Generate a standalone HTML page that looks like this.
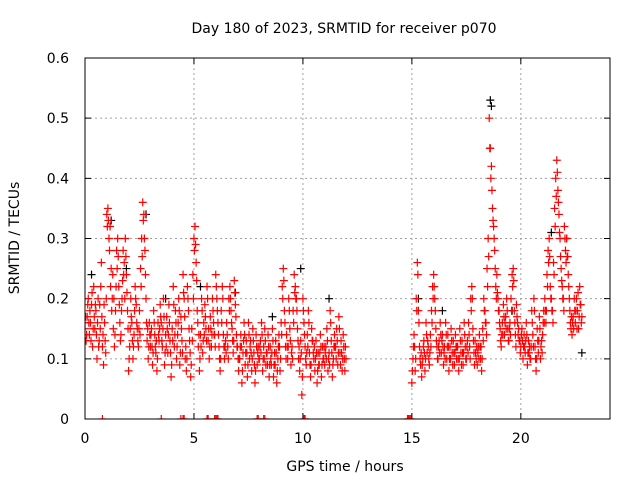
<!DOCTYPE html>
<html><head><meta charset="utf-8"><style>
body{margin:0;background:#fff}
svg{display:block;font-family:"DejaVu Sans","Liberation Sans",sans-serif}
</style></head><body>
<svg id="chart" width="640" height="480">
<defs><clipPath id="pc"><rect x="85" y="58" width="525" height="361"/></clipPath></defs>
<text x="344" y="33" font-size="14" text-anchor="middle">Day 180 of 2023, SRMTID for receiver p070</text>
<text x="345" y="471" font-size="14" text-anchor="middle">GPS time / hours</text>
<text transform="translate(19,238) rotate(-90)" font-size="14" text-anchor="middle">SRMTID / TECUs</text>
<g id="grid"></g><g id="axes"></g><g id="marks" clip-path="url(#pc)"></g>
<rect x="85" y="58" width="525" height="361" fill="none" stroke="#000"/>
</svg>
<script>
const xTicks=[0,5,10,15,20];
const yTicks=[0,0.1,0.2,0.3,0.4,0.5,0.6];
const yTickLabels=["0","0.1","0.2","0.3","0.4","0.5","0.6"];
const blockStarts=[0,0.5,1,1.5,2,2.5,3,3.5,4,4.5,5,5.5,6,6.5,7,7.5,8,8.5,9,9.5,10,10.5,11,11.5,15,15.5,16,16.5,17,17.5,18,18.5,19,19.5,20,20.5,21,21.5,22,22.5];
const redA=[
[0.15,0.13,0.17,0.2,0.14,0.16,0.19,0.12,0.22,0.15],
[0.18,0.1,0.2,0.13,0.15,0.26,0.12,0.09,0.16,0.11],
[0.34,0.35,0.3,0.32,0.25,0.2,0.15,0.12,0.18,0.28],
[0.3,0.22,0.16,0.14,0.2,0.28,0.26,0.3,0.24,0.18],
[0.08,0.12,0.2,0.16,0.1,0.14,0.22,0.19,0.15,0.12],
[0.18,0.25,0.3,0.36,0.34,0.28,0.2,0.13,0.1,0.16],
[0.12,0.15,0.09,0.18,0.14,0.11,0.08,0.16,0.13,0.19],
[0.16,0.12,0.2,0.09,0.14,0.17,0.11,0.19,0.13,0.07],
[0.15,0.22,0.12,0.18,0.1,0.14,0.2,0.09,0.17,0.13],
[0.24,0.2,0.1,0.08,0.22,0.18,0.13,0.07,0.15,0.24],
[0.3,0.32,0.26,0.18,0.12,0.08,0.14,0.2,0.11,0.16],
[0.19,0.15,0.22,0.13,0.1,0.17,0.12,0.2,0.16,0.14],
[0.24,0.2,0.16,0.12,0.08,0.18,0.22,0.14,0.1,0.13],
[0.16,0.12,0.2,0.22,0.18,0.15,0.11,0.23,0.19,0.14],
[0.12,0.08,0.1,0.14,0.06,0.11,0.16,0.09,0.13,0.07],
[0.16,0.1,0.13,0.08,0.15,0.11,0.06,0.14,0.09,0.12],
[0.1,0.13,0.16,0.08,0.12,0.15,0.09,0.11,0.14,0.07],
[0.12,0.09,0.15,0.07,0.11,0.13,0.06,0.1,0.14,0.08],
[0.16,0.22,0.25,0.18,0.12,0.14,0.1,0.2,0.15,0.09],
[0.12,0.18,0.24,0.22,0.2,0.15,0.1,0.08,0.13,0.04],
[0.2,0.16,0.12,0.09,0.14,0.18,0.11,0.07,0.15,0.13],
[0.1,0.08,0.13,0.06,0.11,0.09,0.14,0.07,0.12,0.1],
[0.09,0.12,0.15,0.08,0.11,0.18,0.13,0.07,0.1,0.14],
[0.12,0.15,0.09,0.17,0.11,0.13,0.08,0.14,0.1,0.12],
[0.06,0.1,0.14,0.08,0.2,0.26,0.18,0.12,0.09,0.07],
[0.1,0.13,0.08,0.16,0.11,0.12,0.09,0.14,0.18,0.22],
[0.24,0.2,0.15,0.12,0.1,0.13,0.16,0.11,0.14,0.09],
[0.12,0.16,0.1,0.14,0.08,0.12,0.15,0.11,0.13,0.09],
[0.14,0.1,0.12,0.08,0.15,0.11,0.13,0.09,0.16,0.12],
[0.1,0.13,0.16,0.12,0.2,0.22,0.15,0.11,0.13,0.1],
[0.09,0.12,0.14,0.1,0.08,0.15,0.2,0.18,0.16,0.25],
[0.3,0.5,0.45,0.42,0.35,0.32,0.28,0.22,0.24,0.2],
[0.18,0.15,0.12,0.16,0.19,0.14,0.17,0.2,0.15,0.13],
[0.16,0.2,0.24,0.25,0.18,0.14,0.19,0.16,0.15,0.13],
[0.12,0.15,0.1,0.14,0.11,0.16,0.09,0.13,0.12,0.1],
[0.18,0.14,0.2,0.12,0.08,0.15,0.11,0.17,0.1,0.13],
[0.14,0.18,0.2,0.16,0.24,0.28,0.3,0.22,0.2,0.18],
[0.26,0.35,0.4,0.43,0.38,0.34,0.3,0.25,0.22,0.2],
[0.32,0.28,0.3,0.27,0.22,0.18,0.15,0.14,0.17,0.2],
[0.16,0.2,0.18,0.15,0.22,0.19,0.17]];
const redB=[
[0.17,0.14,0.19,0.16,0.18,0.13,0.21,0.15,0.17,0.19],
[0.14,0.16,0.12,0.19,0.22,0.17,0.14,0.19,0.13,0.2],
[0.32,0.33,0.28,0.22,0.18,0.24,0.2,0.14,0.22,0.25],
[0.27,0.19,0.13,0.18,0.23,0.24,0.2,0.27,0.21,0.15],
[0.1,0.15,0.17,0.13,0.12,0.18,0.2,0.16,0.13,0.15],
[0.14,0.22,0.27,0.33,0.3,0.24,0.16,0.15,0.12,0.14],
[0.14,0.12,0.11,0.16,0.12,0.13,0.1,0.14,0.15,0.17],
[0.13,0.15,0.17,0.11,0.12,0.15,0.14,0.16,0.11,0.09],
[0.13,0.19,0.14,0.16,0.12,0.16,0.18,0.11,0.15,0.11],
[0.21,0.17,0.12,0.1,0.2,0.15,0.11,0.09,0.13,0.2],
[0.28,0.29,0.23,0.16,0.14,0.1,0.12,0.18,0.13,0.14],
[0.17,0.13,0.2,0.15,0.12,0.15,0.14,0.18,0.14,0.12],
[0.22,0.18,0.14,0.1,0.1,0.16,0.2,0.12,0.12,0.11],
[0.14,0.1,0.18,0.2,0.16,0.13,0.13,0.21,0.17,0.12],
[0.1,0.1,0.12,0.12,0.08,0.13,0.14,0.11,0.11,0.09],
[0.14,0.12,0.11,0.1,0.13,0.09,0.08,0.12,0.11,0.1],
[0.12,0.11,0.14,0.1,0.1,0.13,0.11,0.09,0.12,0.09],
[0.1,0.11,0.13,0.09,0.09,0.11,0.08,0.12,0.12,0.1],
[0.14,0.2,0.23,0.16,0.1,0.12,0.12,0.18,0.13,0.11],
[0.1,0.16,0.21,0.2,0.18,0.13,0.12,0.1,0.11,0.07],
[0.18,0.14,0.1,0.11,0.12,0.16,0.09,0.09,0.13,0.11],
[0.12,0.1,0.11,0.08,0.09,0.11,0.12,0.09,0.1,0.12],
[0.11,0.1,0.13,0.1,0.09,0.16,0.11,0.09,0.12,0.12],
[0.1,0.13,0.11,0.15,0.09,0.11,0.1,0.12,0.08,0.1],
[0.08,0.12,0.12,0.1,0.18,0.24,0.16,0.1,0.11,0.09],
[0.12,0.11,0.1,0.14,0.13,0.1,0.11,0.12,0.16,0.2],
[0.22,0.18,0.13,0.1,0.12,0.11,0.14,0.13,0.12,0.11],
[0.1,0.14,0.12,0.12,0.1,0.1,0.13,0.09,0.11,0.11],
[0.12,0.12,0.1,0.1,0.13,0.09,0.11,0.11,0.14,0.1],
[0.12,0.11,0.14,0.1,0.18,0.2,0.13,0.09,0.11,0.12],
[0.11,0.1,0.12,0.12,0.1,0.13,0.18,0.16,0.14,0.22],
[0.27,0.45,0.4,0.38,0.33,0.3,0.25,0.2,0.21,0.18],
[0.16,0.13,0.14,0.14,0.17,0.16,0.15,0.18,0.13,0.15],
[0.14,0.18,0.22,0.23,0.16,0.12,0.17,0.14,0.13,0.11],
[0.14,0.13,0.12,0.12,0.13,0.14,0.11,0.11,0.1,0.12],
[0.16,0.12,0.18,0.1,0.1,0.13,0.13,0.15,0.12,0.11],
[0.16,0.16,0.18,0.18,0.22,0.26,0.27,0.2,0.18,0.16],
[0.24,0.32,0.37,0.41,0.36,0.31,0.27,0.23,0.2,0.18],
[0.3,0.26,0.27,0.24,0.2,0.16,0.17,0.16,0.15,0.18],
[0.18,0.15,0.21,0.17,0.19,0.16]];
const blackHours=[0.3,1.2,1.9,2.8,3.7,5.3,6.9,8.6,9.9,11.2,15.3,16.4,18.6,18.65,19.6,21.4,22.1,22.8];
const blackValues=[0.24,0.33,0.25,0.34,0.2,0.22,0.21,0.17,0.25,0.2,0.2,0.18,0.53,0.52,0.18,0.31,0.3,0.11];
const zeroHours=[0.8,3.5,4.4,4.5,4.55,5.6,5.65,5.95,6.0,6.05,6.1,7.9,7.95,8.2,8.25,10.05,10.1,14.8,14.85,14.9,14.95];
const step=0.05;
const X0=85,X1=608,Y0=419,Y1=58;
const xs=h=>X0+h/24*(X1-X0);
const ys=v=>Y0-v/0.6*(Y0-Y1);
const NS="http://www.w3.org/2000/svg";
const grid=document.getElementById('grid'),axes=document.getElementById('axes'),marks=document.getElementById('marks');
function mk(tag,attrs,parent){const e=document.createElementNS(NS,tag);for(const k in attrs)e.setAttribute(k,attrs[k]);parent.appendChild(e);return e;}
yTicks.forEach((t,i)=>{
 const y=ys(t);
 if(i>0&&i<yTicks.length-1){const g=mk('line',{x1:X0,x2:610,y1:y,y2:y,stroke:'#a0a0a0','stroke-dasharray':'2,3'},grid);
 
 }
 const tk=mk('path',{d:`M${X0} ${y}h6M610 ${y}h-6`,stroke:'#000'},axes);
 
 
 const tx=mk('text',{x:X0-16,y:y+5,'font-size':14,'text-anchor':'end'},axes);tx.textContent=yTickLabels[i];
 
 
});
xTicks.forEach(t=>{
 const x=xs(t);
 if(t>0){const g=mk('line',{x1:x,x2:x,y1:58,y2:Y0,stroke:'#a0a0a0','stroke-dasharray':'2,3'},grid);
 
 }
 const tk=mk('path',{d:`M${x} ${Y0}v-6M${x} 58v6`,stroke:'#000'},axes);
 
 
 const tx=mk('text',{x:x,y:443,'font-size':14,'text-anchor':'middle'},axes);tx.textContent=String(t);
 
 
});
function plus(h,v,color,name){
 const x=xs(h),y=ys(v);
 const p=mk('path',{d:`M${x-4} ${y}h8M${x} ${y-4}v8`,stroke:color,'stroke-width':1.2},marks);
 
 
}
blackHours.forEach((h,i)=>plus(h,blackValues[i],'#000','black-point'));
blockStarts.forEach((s,b)=>{
 redA[b].forEach((v,i)=>plus(s+i*step,v,'#f00','red-point'));
 redB[b].forEach((v,i)=>plus(s+i*step+0.025,v,'#f00','red-point'));
});
zeroHours.forEach(h=>plus(h,0,'#f00','zero-point'));
</script>
</body></html>
